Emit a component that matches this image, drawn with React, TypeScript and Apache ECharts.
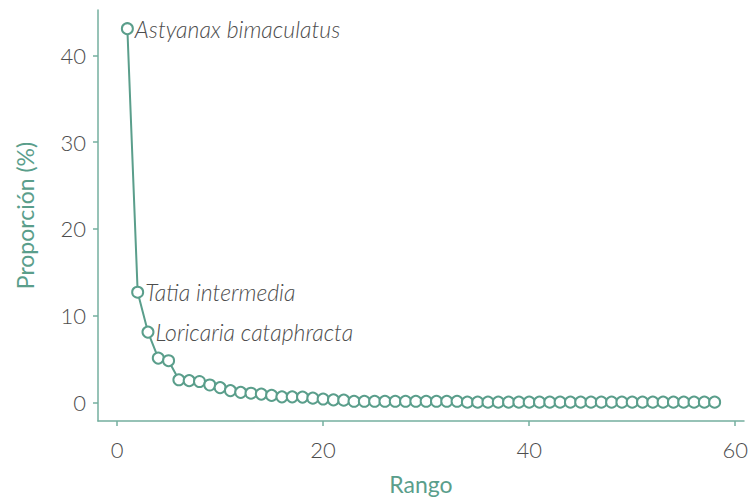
import React, { useEffect, useRef } from "react";
import * as echarts from "echarts";

const ranks: number[] = Array.from({ length: 58 }, (_, i) => i + 1);
const proportions: number[] = [
  43.1, 12.7, 8.1, 5.1, 4.8, 2.6, 2.5, 2.4, 2.0, 1.7,
  1.35, 1.15, 1.05, 0.95, 0.8, 0.63, 0.63, 0.6, 0.48, 0.38,
  0.28, 0.25, 0.12, 0.12, 0.12, 0.12, 0.12, 0.12, 0.12, 0.12,
  0.12, 0.12, 0.12, 0.02, 0.02, 0.02, 0.02, 0.02, 0.02, 0.02,
  0.02, 0.02, 0.02, 0.02, 0.02, 0.02, 0.02, 0.02, 0.02, 0.02,
  0.02, 0.02, 0.02, 0.02, 0.02, 0.02, 0.02, 0.02,
];
const speciesLabels: { rank: number; name: string }[] = [
  { rank: 1, name: "Astyanax bimaculatus" },
  { rank: 2, name: "Tatia intermedia" },
  { rank: 3, name: "Loricaria cataphracta" },
];
const xTicks = [0, 20, 40, 60];
const yTicks = [0, 10, 20, 30, 40];

const TEAL = "#5a9e8b";
const AXIS = "#74af9f";
const TEXT = "#4d4d4d";
const FONT = "Lato";

export default function App() {
  const ref = useRef<HTMLDivElement>(null);
  useEffect(() => {
    document.body.style.margin = "0";
    if (!ref.current) return;
    const chart = echarts.init(ref.current, null, { renderer: "svg" });
    const data = ranks.map((r, i) => {
      const lab = speciesLabels.find((s) => s.rank === r);
      const item: any = { value: [r, proportions[i]] };
      if (lab) {
        item.label = {
          show: true,
          position: "right",
          distance: 1,
          formatter: lab.name,
          fontFamily: FONT,
          fontStyle: "italic",
          fontWeight: 300,
          fontSize: 23,
          color: TEXT,
        };
      }
      return item;
    });
    const xSpan = 57 * 0.05;
    const ySpan = 43.1 * 0.05;
    chart.setOption({
      animation: false,
      grid: { left: 98, right: 8, top: 10, bottom: 73, containLabel: false },
      xAxis: {
        type: "value",
        min: 1 - xSpan,
        max: 58 + xSpan,
        name: "Rango",
        nameLocation: "middle",
        nameGap: 51,
        nameTextStyle: { fontFamily: FONT, fontSize: 23, color: TEAL },
        axisLine: { show: true, onZero: false, lineStyle: { color: AXIS, width: 1.5 } },
        axisTick: { show: true, length: 5, customValues: xTicks, lineStyle: { color: AXIS, width: 1.5 } },
        axisLabel: {
          customValues: xTicks,
          margin: 17,
          fontFamily: FONT,
          fontWeight: 300,
          fontSize: 22,
          color: TEXT,
        },
        splitLine: { show: false },
      },
      yAxis: {
        type: "value",
        min: 0 - ySpan,
        max: 43.1 + ySpan,
        name: "Proporción (%)",
        nameLocation: "middle",
        nameGap: 62,
        nameTextStyle: { fontFamily: FONT, fontSize: 23, color: TEAL },
        axisLine: { show: true, onZero: false, lineStyle: { color: AXIS, width: 1.5 } },
        axisTick: { show: true, length: 5, customValues: yTicks, lineStyle: { color: AXIS, width: 1.5 } },
        axisLabel: {
          customValues: yTicks,
          margin: 12,
          fontFamily: FONT,
          fontWeight: 300,
          fontSize: 22,
          color: TEXT,
        },
        splitLine: { show: false },
      },
      series: [
        {
          type: "line",
          data,
          symbol: "circle",
          symbolSize: 11,
          showAllSymbol: true,
          lineStyle: { color: TEAL, width: 2 },
          itemStyle: { color: "#ffffff", borderColor: TEAL, borderWidth: 2 },
          z: 3,
        },
      ],
    });
    return () => chart.dispose();
  }, []);
  return <div ref={ref} style={{ width: 752, height: 500 }} />;
}
